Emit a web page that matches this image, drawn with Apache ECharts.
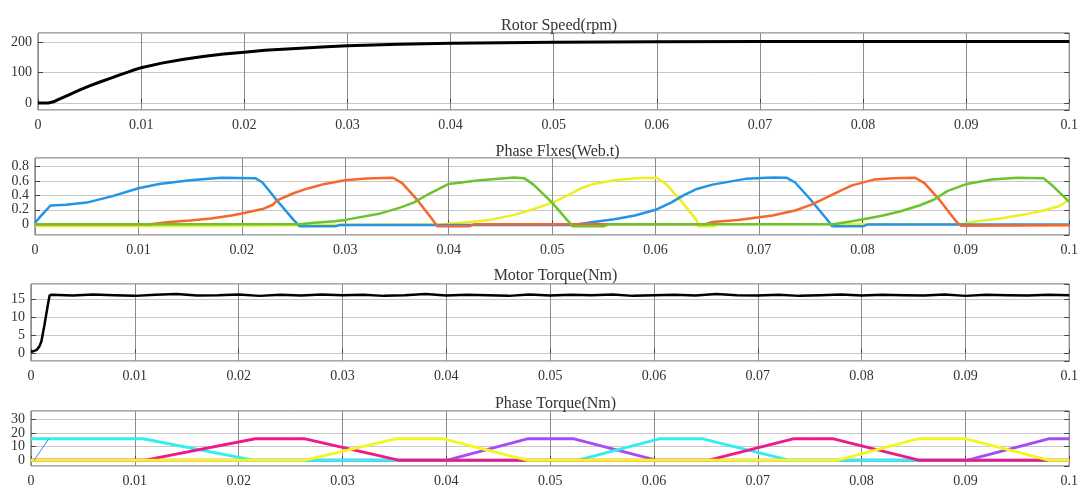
<!DOCTYPE html>
<html><head><meta charset="utf-8">
<script src="https://cdn.jsdelivr.net/npm/echarts@6/dist/echarts.min.js"></script>
<style>html,body{margin:0;padding:0;background:#fff}#c{width:1081px;height:488px}</style>
</head><body><div id="c"></div>
<script>
const panelTitles = ['Rotor Speed(rpm)', 'Phase Flxes(Web.t)', 'Motor Torque(Nm)', 'Phase Torque(Nm)'];
const xTickLabels = ['0','0.01','0.02','0.03','0.04','0.05','0.06','0.07','0.08','0.09','0.1'];

const rotorSpeed = [[0,0],[0.001,0],[0.0015,4],[0.002,12],[0.003,27],[0.004,42],[0.005,56],[0.006,69],[0.007,81],[0.008,93],[0.009,105],[0.010,116],[0.012,131],[0.014,143],[0.016,153],[0.018,161],[0.020,167],[0.022,173],[0.025,179],[0.028,185],[0.030,188],[0.035,193],[0.040,196],[0.045,198],[0.050,200],[0.060,201],[0.070,202],[0.080,202],[0.090,202],[0.100,202]];

const fluxBlue = [[0,0.02],[0.0006,0.12],[0.0015,0.26],[0.003,0.27],[0.005,0.30],[0.0075,0.39],[0.010,0.50],[0.012,0.56],[0.015,0.61],[0.018,0.645],[0.0213,0.64],[0.022,0.58],[0.0234,0.33],[0.025,0.06],[0.0256,-0.03],[0.029,-0.03],[0.0295,-0.01],[0.052,-0.01],[0.054,0.03],[0.056,0.07],[0.058,0.12],[0.060,0.20],[0.0615,0.30],[0.0627,0.40],[0.064,0.49],[0.0655,0.55],[0.0687,0.63],[0.0713,0.65],[0.0727,0.645],[0.0735,0.58],[0.075,0.34],[0.0765,0.08],[0.0771,-0.03],[0.080,-0.03],[0.0805,-0.005],[0.1,-0.005]];
const fluxOrange = [[0,0],[0.0111,0],[0.0112,0.02],[0.013,0.03],[0.015,0.05],[0.017,0.08],[0.019,0.12],[0.020,0.15],[0.021,0.18],[0.022,0.21],[0.023,0.27],[0.0234,0.33],[0.025,0.43],[0.026,0.48],[0.027,0.52],[0.028,0.56],[0.030,0.61],[0.032,0.635],[0.0346,0.645],[0.0355,0.57],[0.037,0.33],[0.0385,0.05],[0.0389,-0.03],[0.042,-0.03],[0.0425,0],[0.0648,0],[0.0655,0.03],[0.068,0.06],[0.0713,0.12],[0.0735,0.19],[0.0752,0.28],[0.0765,0.37],[0.0778,0.46],[0.079,0.54],[0.0811,0.62],[0.083,0.64],[0.0851,0.645],[0.086,0.57],[0.0875,0.33],[0.089,0.05],[0.0895,-0.02],[0.1,-0.015]];
const fluxGreen = [[0,0],[0.0256,0],[0.027,0.02],[0.029,0.04],[0.030,0.06],[0.0334,0.15],[0.0353,0.23],[0.0366,0.30],[0.0382,0.43],[0.040,0.56],[0.043,0.61],[0.0463,0.65],[0.0473,0.64],[0.0482,0.55],[0.050,0.30],[0.0515,0.05],[0.052,-0.03],[0.055,-0.03],[0.0555,0],[0.0772,0],[0.079,0.04],[0.0805,0.08],[0.082,0.12],[0.0837,0.18],[0.0855,0.26],[0.0869,0.34],[0.0882,0.46],[0.0901,0.56],[0.0925,0.62],[0.095,0.645],[0.0975,0.64],[0.0985,0.52],[0.1,0.31]];
const fluxYellow = [[0,-0.025],[0.0124,-0.025],[0.0125,0],[0.0394,0],[0.042,0.03],[0.044,0.06],[0.0463,0.13],[0.048,0.20],[0.0502,0.31],[0.0515,0.40],[0.0528,0.50],[0.054,0.56],[0.056,0.61],[0.058,0.64],[0.0601,0.645],[0.061,0.56],[0.0625,0.32],[0.064,0.05],[0.0641,-0.03],[0.0657,-0.03],[0.066,0],[0.0895,0],[0.0905,0.03],[0.0933,0.08],[0.0955,0.13],[0.0972,0.18],[0.099,0.25],[0.1,0.34]];

const motorTorque = [[0,0.3],[0.0003,0.6],[0.00055,0.9],[0.0008,1.8],[0.001,3.2],[0.0013,7.9],[0.00166,14],[0.0018,16.1],
 [0.002,16.2],[0.004,16.0],[0.006,16.3],[0.008,16.1],[0.010,15.9],[0.012,16.2],[0.014,16.4],[0.016,16.0],[0.018,16.1],[0.020,16.3],
 [0.022,15.9],[0.024,16.2],[0.026,16.0],[0.028,16.3],[0.030,16.1],[0.032,16.2],[0.034,15.9],[0.036,16.1],[0.038,16.4],[0.040,16.0],
 [0.042,16.2],[0.044,16.1],[0.046,15.9],[0.048,16.3],[0.050,16.0],[0.052,16.2],[0.054,16.1],[0.056,16.3],[0.058,15.9],[0.060,16.1],
 [0.062,16.2],[0.064,16.0],[0.066,16.4],[0.068,16.1],[0.070,16.0],[0.072,16.2],[0.074,15.9],[0.076,16.1],[0.078,16.3],[0.080,16.0],
 [0.082,16.2],[0.084,16.1],[0.086,16.0],[0.088,16.3],[0.090,15.9],[0.092,16.2],[0.094,16.1],[0.096,16.0],[0.098,16.2],[0.100,16.1]];

const torqueCyan = [[0,15.6],[0.0108,15.6],[0.0214,0],[0.0527,0],[0.0605,15.6],[0.0647,15.6],[0.073,0],[0.1,0]];
const torqueMagenta = [[0,0],[0.011,0],[0.0216,15.6],[0.0264,15.6],[0.0354,0],[0.0653,0],[0.0734,15.6],[0.0773,15.6],[0.0855,0],[0.1,0]];
const torqueYellow = [[0,0],[0.0264,0],[0.0351,15.6],[0.0397,15.6],[0.0478,0],[0.0777,0],[0.0854,15.6],[0.0901,15.6],[0.098,0],[0.1,0]];
const torquePurple = [[0,0],[0.0401,0],[0.0478,15.6],[0.0523,15.6],[0.0602,0],[0.0902,0],[0.098,15.6],[0.1,15.6]];
const torqueStart = [[0.0003,0],[0.0017,15.5]];

const SERIF = "'Liberation Serif','Times New Roman',serif";
const grids = [
  {left:38, top:33, width:1032, height:77},
  {left:35, top:158, width:1035, height:77},
  {left:31, top:284, width:1039, height:77},
  {left:31, top:411, width:1039, height:56}
];
const yRanges = [[-23,230,3],[-0.15,0.92,5],[-2.2,19.2,4],[-4.3,36,4]];
const titleTops = [13,139,263,391];

const option = {
  animation:false,
  backgroundColor:'#fff',
  title: panelTitles.map((t,i)=>({text:t, left:grids[i].left+grids[i].width/2, top:titleTops[i], textAlign:'center',
    textStyle:{fontFamily:SERIF, fontSize:16, fontWeight:'normal', color:'#333', lineHeight:16}})),
  grid: grids.map(g=>Object.assign({show:true, borderColor:'#555', borderWidth:1, containLabel:false}, g)),
  xAxis: grids.map((g,i)=>({gridIndex:i, type:'value', min:0, max:0.1, interval:0.01,
    axisLine:{show:false}, axisTick:{show:true, inside:true, length:4, lineStyle:{color:'#444'}},
    axisLabel:{margin:8, color:'#333', fontFamily:SERIF, fontSize:14, formatter:v=>xTickLabels[Math.round(v*100)]},
    splitLine:{show:true, lineStyle:{color:'#8c8c8c', width:1}}})),
  yAxis: [],
  series: []
};
grids.forEach((g,i)=>{
  const r = yRanges[i];
  option.yAxis.push({gridIndex:i, type:'value', min:r[0], max:r[1], splitNumber:r[2],
    axisLine:{show:false}, axisTick:{show:true, inside:true, length:5, lineStyle:{color:'#444'}},
    axisLabel:{showMinLabel:false, showMaxLabel:false, margin:6, color:'#333', fontFamily:SERIF, fontSize:14},
    splitLine:{show:true, lineStyle:{color:'#c8c8c8', width:1}}});
});
grids.forEach((g,i)=>{
  const r = yRanges[i];
  option.yAxis.push({gridIndex:i, type:'value', position:'right', min:r[0], max:r[1], splitNumber:r[2],
    axisLine:{show:false}, axisTick:{show:true, inside:true, length:5, lineStyle:{color:'#444'}},
    axisLabel:{show:false}, splitLine:{show:false}});
});
function line(data, gi, color, width){
  return {type:'line', xAxisIndex:gi, yAxisIndex:gi, data:data, showSymbol:false, symbol:'none',
    lineStyle:{color:color, width:width}, itemStyle:{color:color}, clip:true, silent:true};
}
option.series.push(line(rotorSpeed,0,'#000',3));
option.series.push(line(fluxYellow,1,'#eeee22',2.5));
option.series.push(line(fluxBlue,1,'#2394e6',2.5));
option.series.push(line(fluxOrange,1,'#f4682f',2.5));
option.series.push(line(fluxGreen,1,'#6cc330',2.5));
option.series.push(line(motorTorque,2,'#000',2.5));
option.series.push(line(torquePurple,3,'#a84cf2',3));
option.series.push(line(torqueCyan,3,'#33eef0',3));
option.series.push(line(torqueMagenta,3,'#f0198c',3));
option.series.push(line(torqueYellow,3,'#f5f522',3));
option.series.push(line(torqueStart,3,'#3a8ee0',1));

const chart = echarts.init(document.getElementById('c'), null, {renderer:'canvas'});
chart.setOption(option);
</script></body></html>
